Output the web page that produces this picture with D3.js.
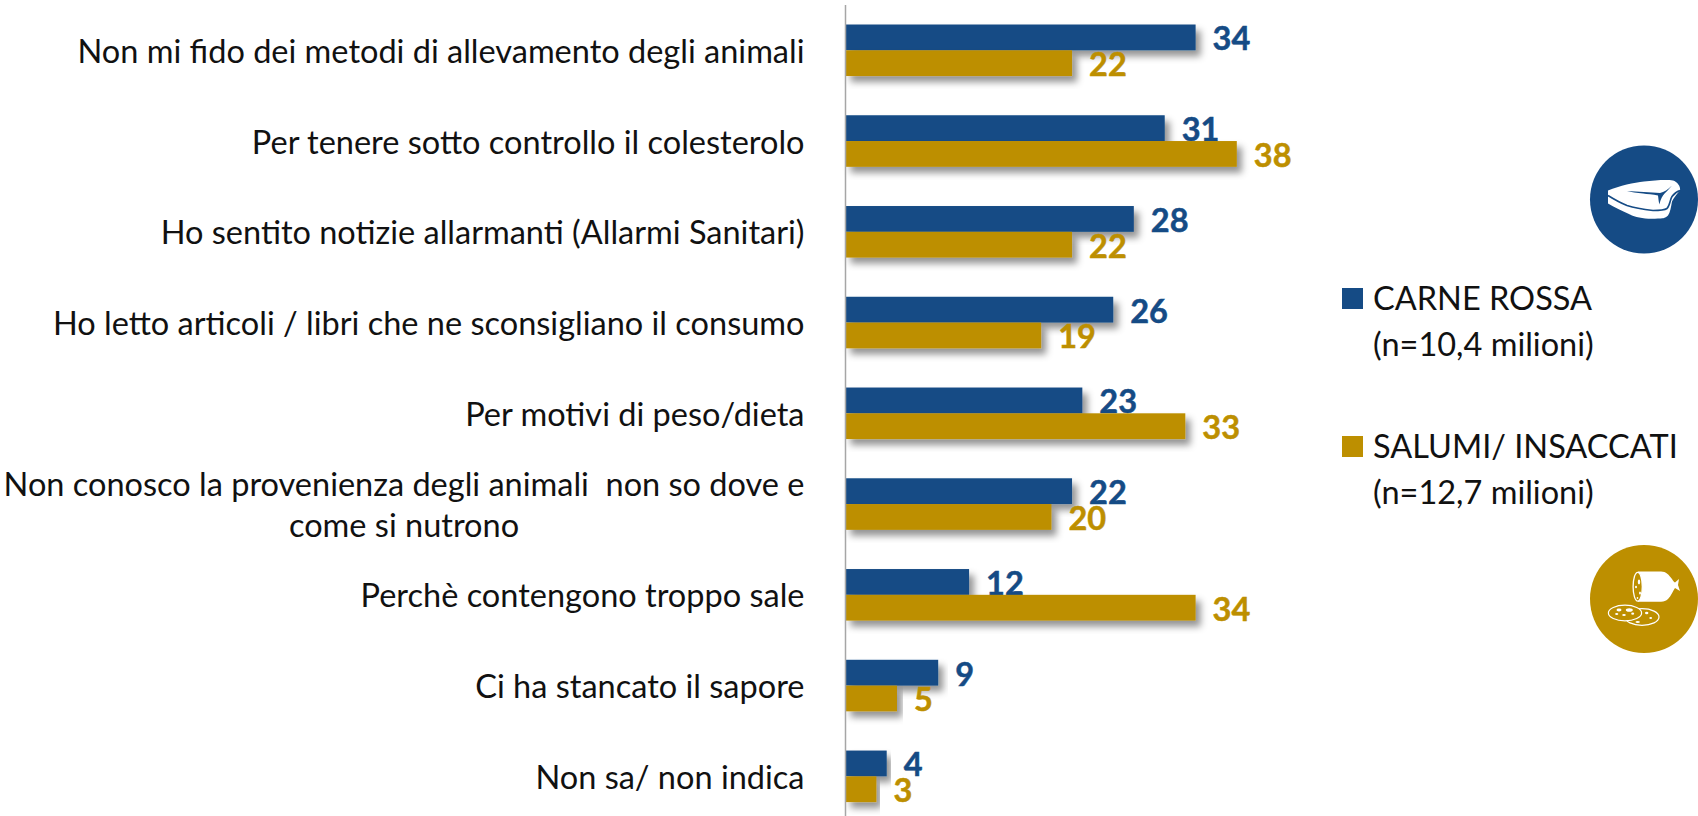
<!DOCTYPE html>
<html lang="it">
<head>
<meta charset="utf-8">
<title>Motivi di riduzione del consumo</title>
<script src="https://cdnjs.cloudflare.com/ajax/libs/d3/7.8.5/d3.min.js"></script>
<style>
  html, body { margin: 0; padding: 0; background: #fff; }
  svg { display: block; font-family: Lato, "Open Sans", sans-serif; }
</style>
</head>
<body>
<svg id="chart" width="1698" height="816"></svg>
<script>
const categories = [
  ["Non mi fido dei metodi di allevamento degli animali"],
  ["Per tenere sotto controllo il colesterolo"],
  ["Ho sentito notizie allarmanti (Allarmi Sanitari)"],
  ["Ho letto articoli / libri che ne sconsigliano il consumo"],
  ["Per motivi di peso/dieta"],
  ["Non conosco la provenienza degli animali  non so dove e", "come si nutrono"],
  ["Perchè contengono troppo sale"],
  ["Ci ha stancato il sapore"],
  ["Non sa/ non indica"]
];
const carneRossa = [34, 31, 28, 26, 23, 22, 12, 9, 4];
const salumi = [22, 38, 22, 19, 33, 20, 34, 5, 3];
const legendCarne = ["CARNE ROSSA", "(n=10,4 milioni)"];
const legendSalumi = ["SALUMI/ INSACCATI", "(n=12,7 milioni)"];

const BLUE = "#154b85";
const GOLD = "#bd8f00";
const TEXT = "#111";

const svg = d3.select("#chart");

const defs = svg.append("defs");
const shadow = defs.append("filter").attr("id", "barShadow")
  .attr("x", "-5%").attr("y", "-20%").attr("width", "115%").attr("height", "170%");
shadow.append("feDropShadow")
  .attr("dx", 5).attr("dy", 6).attr("stdDeviation", 3.5)
  .attr("flood-color", "#000").attr("flood-opacity", 0.42);

const x = d3.scaleLinear().domain([0, 38]).range([845.5, 1236.8]);
const y = d3.scaleBand().domain(d3.range(categories.length))
  .range([4.9, 821.7]).paddingInner(0.432).paddingOuter(0.216);
const barH = y.bandwidth() / 2;

// Blue bars and their values sit under the gold bars, which may clip a label.
function drawBars(values, color, offset, cls) {
  svg.append("g").attr("class", cls).selectAll("rect").data(values).join("rect")
    .attr("x", x(0))
    .attr("y", (d, i) => y(i) + offset)
    .attr("width", d => x(d) - x(0))
    .attr("height", barH)
    .attr("fill", color)
    .attr("filter", "url(#barShadow)");
  svg.append("g").attr("class", cls + "-values").selectAll("text").data(values).join("text")
    .attr("x", d => x(d) + 17)
    .attr("y", (d, i) => y(i) + offset + barH / 2 + 13)
    .attr("fill", color)
    .attr("stroke", color)
    .attr("stroke-width", 0.5)
    .attr("font-size", 32.5)
    .attr("font-weight", 700)
    .text(d => d);
}
drawBars(carneRossa, BLUE, 0, "carne");
drawBars(salumi, GOLD, barH, "salumi");

// Vertical baseline
svg.append("line")
  .attr("x1", x(0)).attr("x2", x(0)).attr("y1", 5).attr("y2", 816)
  .attr("stroke", "#a6a6a6").attr("stroke-width", 1.5);

// Category labels end at a common right edge; wrapped lines are centred on each other
const labelRight = 804.5;
const catG = svg.append("g").attr("class", "categories");
categories.forEach((lines, i) => {
  const cy = y(i) + barH;
  const t = catG.append("text").attr("font-size", 32.5).attr("fill", TEXT);
  const spans = lines.map((line, k) => t.append("tspan")
    .attr("y", cy + 12.5 + (k - (lines.length - 1) / 2) * 41)
    .style("white-space", "pre")
    .text(line));
  const widest = d3.max(spans, s => s.node().getComputedTextLength());
  t.attr("text-anchor", "middle");
  spans.forEach(s => s.attr("x", labelRight - widest / 2));
});

// Legend
function legendEntry(lines, color, swatchTop, baselines) {
  svg.append("rect").attr("x", 1342).attr("y", swatchTop)
    .attr("width", 21).attr("height", 21).attr("fill", color);
  svg.append("g").selectAll("text").data(lines).join("text")
    .attr("x", 1373)
    .attr("y", (d, i) => baselines[i])
    .attr("font-size", 32.5)
    .attr("fill", TEXT)
    .text(d => d);
}
legendEntry(legendCarne, BLUE, 288, [310, 356]);
legendEntry(legendSalumi, GOLD, 436, [458, 504]);

// Steak badge
const steak = svg.append("g").attr("transform", "translate(1644,199.5)");
steak.append("circle").attr("r", 54).attr("fill", BLUE);
steak.append("path").attr("fill", "#fff")
  .attr("d", "M-36,-9 C-24,-14 -10,-17 0,-18 C10,-19 22,-20 29,-19 C33,-18 37,-13 36,-9 C33,-6 30,-2 28,2 C27,8 26,13 24,16 C21,19 18,19 14,19 C2,20 -8,18 -14,15 C-22,11 -30,8 -36,4 Z");
steak.append("path").attr("fill", "none").attr("stroke", BLUE).attr("stroke-width", 1.6)
  .attr("d", "M-36,-4 C-28,1 -22,4 -17,6 C-8,9 0,10 9,11 C16,11 20,11 23,9 C26,6 26,0 28,-3 C30,-6 33,-8 36,-9");
steak.append("path").attr("fill", BLUE)
  .attr("d", "M-17,-8.5 C-6,-8 6,-7 16,-6.5 C20,-7.5 24,-10 28,-14 C25,-10 21,-7 19,-4 C17,-1 16,2 15.5,5 C14.5,2 14.5,-1 14,-4 C9,-5 3,-5.5 -1,-6 C-7,-6.5 -13,-7.5 -17,-8.5 Z");

// Salami badge
const salame = svg.append("g").attr("transform", "translate(1644,599)");
salame.append("circle").attr("r", 54).attr("fill", GOLD);
salame.append("path").attr("fill", "#fff")
  .attr("d", "M-6,-27.5 L17,-27.5 C22,-27.5 25,-24 28,-20 C29,-18 30,-17 31,-16.5 L35,-20 L34,-14 L36,-8 L31,-11 C29,-8 27,-3 24,0 C22,2 20,2.7 17,2.7 L-6,2.7 Z");
salame.append("ellipse").attr("cx", -6.3).attr("cy", -12.3).attr("rx", 4.6).attr("ry", 14.4)
  .attr("fill", GOLD).attr("stroke", "#fff").attr("stroke-width", 1.3);
const endFlecks = [[-5, -17, 1.2, 2.4], [-8, -12, 1, 1.2], [-4, -6, 1, 1.5], [-6.5, -1, 0.8, 1]];
salame.selectAll(".endFleck").data(endFlecks).join("ellipse").attr("class", "endFleck")
  .attr("cx", d => d[0]).attr("cy", d => d[1]).attr("rx", d => d[2]).attr("ry", d => d[3]).attr("fill", "#fff");
salame.append("ellipse").attr("cx", -2).attr("cy", 18).attr("rx", 17).attr("ry", 8.3)
  .attr("fill", GOLD).attr("stroke", "#fff").attr("stroke-width", 1.2);
salame.append("ellipse").attr("cx", -19).attr("cy", 14).attr("rx", 16.6).attr("ry", 7.8)
  .attr("fill", GOLD).attr("stroke", "#fff").attr("stroke-width", 1.2);
const sliceFlecks = [[-25, 11, 2.5, 1.4], [-14.7, 11, 3.5, 1.8], [-27.3, 15, 1.6, 0.9], [-20, 16, 1.8, 1], [-11.3, 14.7, 1.5, 1.1], [2.7, 14, 1.7, 1.2], [6.7, 19, 1.4, 1], [-6.3, 23, 2.2, 1.1]];
salame.selectAll(".sliceFleck").data(sliceFlecks).join("ellipse").attr("class", "sliceFleck")
  .attr("cx", d => d[0]).attr("cy", d => d[1]).attr("rx", d => d[2]).attr("ry", d => d[3]).attr("fill", "#fff");
</script>
</body>
</html>
